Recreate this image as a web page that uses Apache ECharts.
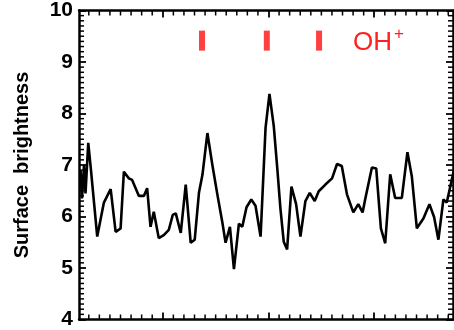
<!DOCTYPE html>
<html><head><meta charset="utf-8">
<script src="https://cdn.jsdelivr.net/npm/echarts@6/dist/echarts.min.js"></script>
<style>html,body{margin:0;padding:0;background:#fff}#c{width:454px;height:330px}</style>
</head><body><div id="c"></div>
<script>
// x positions (arbitrary spectral units) and surface brightness values
const xVals = [2.22,2.36,2.55,2.69,2.95,3.18,3.80,4.43,5.07,5.54,6.01,6.32,6.79,7.10,7.74,8.21,8.52,8.84,9.15,9.62,10.09,10.57,10.94,11.23,11.70,12.17,12.64,13.02,13.42,13.75,14.22,14.69,15.16,15.63,15.94,16.35,16.73,17.20,17.52,17.92,18.37,18.77,19.25,19.72,20.09,20.50,20.82,21.13,21.44,21.76,22.17,22.61,23.02,23.49,23.90,24.37,24.75,25.38,26.01,26.48,26.93,27.42,28.02,28.49,28.90,29.15,29.78,30.19,30.63,31.04,31.51,31.98,32.61,33.14,33.56,34.03,34.65,35.22,35.66,36.07,36.54,36.86,37.33,37.55];
const yVals = [6.90,6.35,7.00,6.45,7.43,6.96,5.61,6.27,6.53,5.70,5.77,6.87,6.74,6.71,6.40,6.40,6.55,5.80,6.09,5.58,5.64,5.74,6.03,6.06,5.68,6.62,5.49,5.55,6.46,6.81,7.62,7.00,6.43,5.89,5.49,5.80,4.98,5.86,5.80,6.18,6.33,6.21,5.61,7.72,8.38,7.75,6.96,6.15,5.51,5.36,6.58,6.24,5.61,6.30,6.46,6.30,6.49,6.62,6.74,7.02,6.98,6.43,6.08,6.24,6.08,6.34,6.95,6.93,5.77,5.48,6.82,6.36,6.36,7.25,6.77,5.77,5.96,6.24,5.99,5.55,6.33,6.27,6.71,6.90];
// OH+ line markers
const ohLines = [13.71, 19.84, 24.78];
const ohMarkY = 9.415;
const yTicks = [4,5,6,7,8,9,10];
const xMajor = [10,20,30];
const xMinor = [3,4,5,6,7,8,9,11,12,13,14,15,16,17,18,19,21,22,23,24,25,26,27,28,29,31,32,33,34,35,36,37];
const yMinor = [4.1,4.2,4.3,4.4,4.5,4.6,4.7,4.8,4.9,5.1,5.2,5.3,5.4,5.5,5.6,5.7,5.8,5.9,6.1,6.2,6.3,6.4,6.5,6.6,6.7,6.8,6.9,7.1,7.2,7.3,7.4,7.5,7.6,7.7,7.8,7.9,8.1,8.2,8.3,8.4,8.5,8.6,8.7,8.8,8.9,9.1,9.2,9.3,9.4,9.5,9.6,9.7,9.8,9.9];
const xMin = 2.075, xMax = 37.45, yMin = 4, yMax = 10;
const FONT = 'Liberation Sans, Arial, sans-serif';

const chart = echarts.init(document.getElementById('c'), null, {renderer:'canvas'});
const axLine = {show:true, onZero:false, lineStyle:{color:'#000', width:2.5}};
function xAx(pos){
  return {type:'value', position:pos, min:xMin, max:xMax, axisLine:axLine,
    axisTick:{show:true, inside:true, length:7, customValues:xMajor, lineStyle:{color:'#000', width:1.8}},
    axisLabel:{show:false, customValues:xMajor}, splitLine:{show:false}};
}
function yAx(pos, showLabel){
  return {type:'value', position:pos, min:yMin, max:yMax, interval:1, axisLine:axLine,
    axisTick:{show:true, inside:true, length:7, lineStyle:{color:'#000', width:1.8}},
    axisLabel:{show:showLabel, color:'#000', fontSize:21, fontWeight:'bold', fontFamily:FONT, margin:6},
    splitLine:{show:false},
    name: showLabel ? 'Surface  brightness' : '',
    nameLocation:'middle', nameGap:47, nameRotate:90,
    nameTextStyle:{color:'#000', fontSize:20, fontWeight:'bold', fontFamily:FONT}};
}
// minor ticks drawn through the axes' scales
const L = 5;
function xMinorTick(params, api){
  const v = api.value(0);
  const b = api.coord([v, yMin]), t = api.coord([v, yMax]);
  return {type:'group', children:[
    {type:'line', shape:{x1:b[0], y1:b[1], x2:b[0], y2:b[1]-L}, style:{stroke:'#000', lineWidth:1.5}},
    {type:'line', shape:{x1:t[0], y1:t[1], x2:t[0], y2:t[1]+L}, style:{stroke:'#000', lineWidth:1.5}}]};
}
function yMinorTick(params, api){
  const v = api.value(1);
  const l = api.coord([xMin, v]), r = api.coord([xMax, v]);
  return {type:'group', children:[
    {type:'line', shape:{x1:l[0], y1:l[1], x2:l[0]+L, y2:l[1]}, style:{stroke:'#000', lineWidth:1.5}},
    {type:'line', shape:{x1:r[0], y1:r[1], x2:r[0]-L, y2:r[1]}, style:{stroke:'#000', lineWidth:1.5}}]};
}

chart.setOption({
  animation:false,
  backgroundColor:'#fff',
  grid:{left:79, right:1, top:9, bottom:3, containLabel:false},
  xAxis:[xAx('bottom'), xAx('top')],
  yAxis:[yAx('left', true), yAx('right', false)],
  title:{text:'{a|OH}{b|+}', left:353, top:26, padding:0,
    textStyle:{rich:{
      a:{color:'#ff2020', fontSize:26, fontWeight:'normal', fontFamily:FONT, verticalAlign:'bottom', lineHeight:30},
      b:{color:'#ff2020', fontSize:17, fontWeight:'normal', fontFamily:FONT, verticalAlign:'top', lineHeight:30, padding:[0,0,14,2]}
    }}},
  series:[
    {type:'custom', coordinateSystem:'cartesian2d', data:xMinor.map(v => [v, yMin]), renderItem:xMinorTick, clip:false, silent:true, z:5},
    {type:'custom', coordinateSystem:'cartesian2d', data:yMinor.map(v => [xMin, v]), renderItem:yMinorTick, clip:false, silent:true, z:5},
    {type:'line', data:xVals.map((x,i)=>[x,yVals[i]]),
      symbol:'none', lineStyle:{color:'#000', width:2.6}, clip:true},
    {type:'scatter', data:ohLines.map(x=>[x,ohMarkY]),
      symbol:'rect', symbolSize:[6,20], itemStyle:{color:'#ff1010'}}
  ]
});
</script></body></html>
